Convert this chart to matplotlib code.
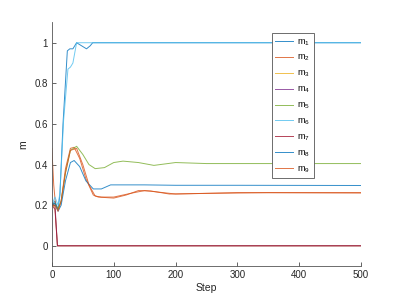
import numpy as np
import matplotlib
matplotlib.use("Agg")
import matplotlib.pyplot as plt

plt.rcParams['font.family'] = ['Liberation Sans', 'DejaVu Sans']
plt.rcParams['mathtext.fontset'] = 'custom'
plt.rcParams['mathtext.rm'] = 'Liberation Sans'
plt.rcParams['mathtext.it'] = 'Liberation Sans'

# MATLAB default colour order
COLORS = ["#0072BD", "#D95319", "#EDB120", "#7E2F8E", "#77AC30",
          "#4DBEEE", "#A2142F", "#0072BD", "#D95319"]

# (steps, values)
m1_steps = [0, 5, 10, 13, 18, 25, 29, 34, 40, 48, 56, 62, 66, 500]
m1_vals = [0.2, 0.22, 0.18, 0.25, 0.6, 0.96, 0.97, 0.97, 1.0, 0.985, 0.97, 0.985, 1.0, 1.0]

m2_steps = [0, 3, 6, 10, 15, 22, 30, 36, 45, 55, 67, 75, 100, 120, 140, 160, 190, 250, 350, 500]
m2_vals = [0.48, 0.3, 0.2, 0.18, 0.22, 0.38, 0.48, 0.485, 0.43, 0.33, 0.25, 0.24, 0.235, 0.25,
           0.272, 0.27, 0.255, 0.258, 0.262, 0.262]

m3_steps = [0, 5, 9, 500]
m3_vals = [0.2, 0.19, 0.0, 0.0]

m4_steps = [0, 5, 9, 500]
m4_vals = [0.21, 0.2, 0.0, 0.0]

m5_steps = [0, 5, 10, 15, 22, 30, 40, 50, 60, 70, 85, 100, 115, 140, 165, 200, 250, 350, 500]
m5_vals = [0.2, 0.21, 0.18, 0.22, 0.36, 0.47, 0.49, 0.45, 0.4, 0.38, 0.385, 0.41, 0.417, 0.41,
           0.396, 0.41, 0.405, 0.405, 0.405]

m6_steps = [0, 5, 10, 13, 19, 26, 30, 34, 40, 500]
m6_vals = [0.2, 0.24, 0.2, 0.26, 0.62, 0.87, 0.88, 0.9, 1.0, 1.0]

m7_steps = [0, 5, 9, 500]
m7_vals = [0.2, 0.18, 0.0, 0.0]

m8_steps = [0, 5, 10, 15, 22, 30, 36, 45, 55, 67, 80, 95, 120, 150, 200, 300, 500]
m8_vals = [0.2, 0.21, 0.17, 0.2, 0.32, 0.41, 0.42, 0.39, 0.32, 0.28, 0.28, 0.30, 0.30, 0.30,
           0.298, 0.298, 0.297]

m9_steps = [0, 5, 10, 15, 22, 30, 40, 50, 60, 70, 80, 100, 130, 150, 200, 300, 500]
m9_vals = [0.2, 0.2, 0.17, 0.22, 0.36, 0.47, 0.48, 0.4, 0.3, 0.245, 0.24, 0.24, 0.26, 0.272,
           0.255, 0.262, 0.26]

series = [(m1_steps, m1_vals), (m2_steps, m2_vals), (m3_steps, m3_vals),
          (m4_steps, m4_vals), (m5_steps, m5_vals), (m6_steps, m6_vals),
          (m7_steps, m7_vals), (m8_steps, m8_vals), (m9_steps, m9_vals)]

fig = plt.figure(figsize=(3.99, 2.99), dpi=100)
ax = fig.add_axes([0.13, 0.11, 0.775, 0.815])

for i, (s, v) in enumerate(series):
    ax.plot(s, v, color=COLORS[i], lw=0.7, alpha=0.8, label=r"m$_{%d}$" % (i + 1))

ax.set_xlim(0, 500)
ax.set_ylim(-0.1, 1.1)
ax.set_xticks([0, 100, 200, 300, 400, 500])
ax.set_yticks([0, 0.2, 0.4, 0.6, 0.8, 1])
ax.set_yticklabels(["0", "0.2", "0.4", "0.6", "0.8", "1"])
ax.set_xlabel("Step", fontsize=7.5, color="#262626", labelpad=2)
ax.set_ylabel("m", fontsize=7.5, color="#262626", labelpad=4)
ax.tick_params(direction="in", length=3, width=0.5, labelsize=7, colors="#262626", pad=3)
for side in ["top", "right"]:
    ax.spines[side].set_visible(False)
for side in ["left", "bottom"]:
    ax.spines[side].set_linewidth(0.6)
    ax.spines[side].set_color("#555555")

leg = ax.legend(loc="upper left", bbox_to_anchor=(0.711, 0.955), borderaxespad=0,
                fontsize=6.5, frameon=True, fancybox=False, edgecolor="#555555",
                framealpha=1, handlelength=2.0, labelspacing=0.6, borderpad=0.4,
                handletextpad=0.4)
leg.get_frame().set_linewidth(0.6)

fig.savefig("out.png", dpi=100)
